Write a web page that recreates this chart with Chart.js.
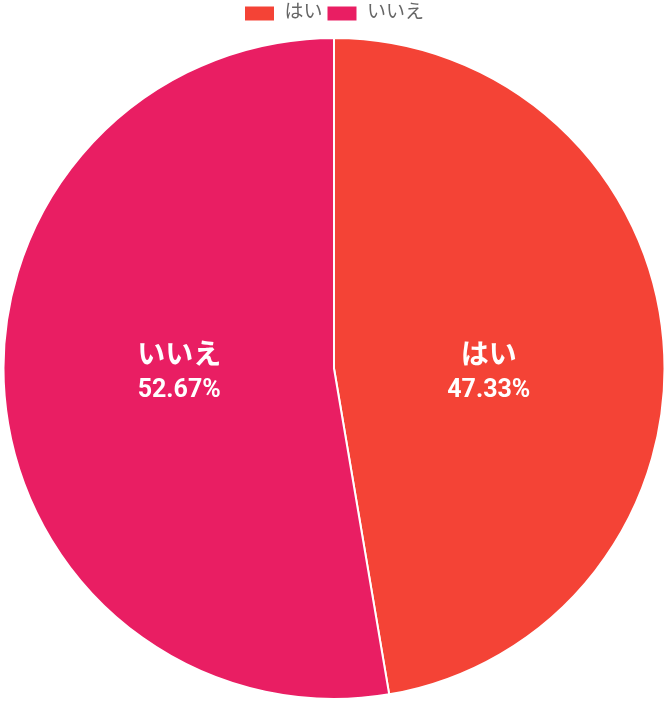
<!DOCTYPE html>
<html>
<head>
<meta charset="utf-8">
<script src="https://cdn.jsdelivr.net/npm/chart.js@4"></script>
<style>
    html, body { margin: 0; padding: 0; background: #fff; }
    #wrap { width: 668px; height: 704px; }
</style>
</head>
<body>
<div id="wrap"><canvas id="pieChart"></canvas></div>
<script>
const labels = ["はい", "いいえ"];
const values = [47.33, 52.67];
const sliceColors = ["#F44336", "#E91E63"];

const fontFamily = "Roboto, 'Noto Sans CJK JP', sans-serif";

// draws the name and percentage inside each slice
const sliceLabels = {
    id: "sliceLabels",
    afterDatasetsDraw(chart) {
        const ctx = chart.ctx;
        const meta = chart.getDatasetMeta(0);
        const total = values.reduce((a, b) => a + b, 0);

        ctx.save();
        ctx.fillStyle = "#fff";
        ctx.textAlign = "center";
        ctx.textBaseline = "middle";

        meta.data.forEach((arc, i) => {
            const mid = (arc.startAngle + arc.endAngle) / 2;
            const x = arc.x + Math.cos(mid) * arc.outerRadius * 0.47;
            const y = arc.y;
            const pct = (values[i] / total * 100).toFixed(2) + "%";

            ctx.font = "bold 28px " + fontFamily;
            ctx.fillText(labels[i], x, y - 12);

            ctx.font = "bold 25px " + fontFamily;
            ctx.fillText(pct, x, y + 22);
        });

        ctx.restore();
    }
};

// a bit more room under the legend
const legendGap = {
    id: "legendGap",
    beforeInit(chart) {
        const fit = chart.legend.fit;
        chart.legend.fit = function () {
            fit.bind(chart.legend)();
            this.height += 4;
        };
    }
};

new Chart(document.getElementById("pieChart"), {
    type: "pie",
    data: {
        labels: labels,
        datasets: [{
            data: values,
            backgroundColor: sliceColors,
            borderColor: "#fff",
            borderWidth: 2
        }]
    },
    options: {
        responsive: true,
        maintainAspectRatio: false,
        animation: false,
        layout: {
            padding: { left: 0, right: 0, top: 0, bottom: 4 }
        },
        plugins: {
            legend: {
                position: "top",
                labels: {
                    boxWidth: 31,
                    boxHeight: 16,
                    color: "#666",
                    padding: 4,
                    font: { family: fontFamily, size: 19 }
                }
            },
            tooltip: { enabled: false }
        }
    },
    plugins: [sliceLabels, legendGap]
});
</script>
</body>
</html>
